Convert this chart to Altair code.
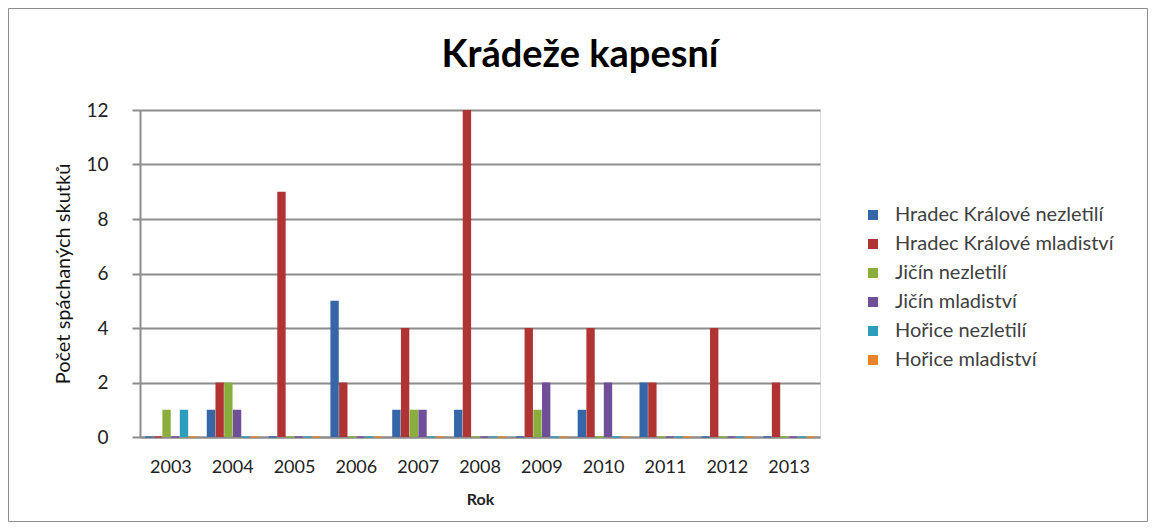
import altair as alt
import pandas as pd

years = ["2003", "2004", "2005", "2006", "2007", "2008", "2009", "2010", "2011", "2012", "2013"]
series = ["Hradec Králové nezletilí", "Hradec Králové mladiství", "Jičín nezletilí",
          "Jičín mladiství", "Hořice nezletilí", "Hořice mladiství"]
hk_nez = [0, 1, 0, 5, 1, 1, 0, 1, 2, 0, 0]
hk_ml = [0, 2, 9, 2, 4, 12, 4, 4, 2, 4, 2]
ji_nez = [1, 2, 0, 0, 1, 0, 1, 0, 0, 0, 0]
ji_ml = [0, 1, 0, 0, 1, 0, 2, 2, 0, 0, 0]
ho_nez = [1, 0, 0, 0, 0, 0, 0, 0, 0, 0, 0]
ho_ml = [0, 0, 0, 0, 0, 0, 0, 0, 0, 0, 0]
colors = ["#3466A8", "#B03434", "#8AAE3E", "#6E4F98", "#2C9DBA", "#E7832A"]
title_text = "Krádeže kapesní"

rows = []
for s, vals in zip(series, [hk_nez, hk_ml, ji_nez, ji_ml, ho_nez, ho_ml]):
    for y, v in zip(years, vals):
        rows.append({"Rok": y, "Série": s, "Počet": v})
df = pd.DataFrame(rows)

W, H = 680, 327
PL, PT = 132, 102
TW, TH = 1140, 514
FONT = "Lato"

x_enc = alt.X("Rok:N", sort=years, title="Rok",
              scale=alt.Scale(paddingInner=0.16, paddingOuter=0.08),
              axis=alt.Axis(labelAngle=0, labelFontSize=18, labelColor="#222222",
                            labelFont=FONT, labelPadding=21, ticks=False,
                            domain=True, domainColor="#8c8c8c", domainWidth=2,
                            titleFont=FONT, titleFontSize=16, titleFontWeight="bold",
                            titleColor="#222222", titlePadding=15))
xo = alt.XOffset("Série:N", sort=series, scale=alt.Scale(paddingInner=0.04))
color_enc = alt.Color("Série:N", sort=series,
                      scale=alt.Scale(domain=series, range=colors),
                      legend=alt.Legend(title=None, orient="none", legendX=723, legendY=95,
                                        labelFontSize=20, labelFont=FONT,
                                        labelColor="#404040", symbolType="square",
                                        symbolSize=100, symbolStrokeWidth=0,
                                        rowPadding=9, labelOffset=12, labelLimit=0))

base = alt.Chart(df)

bars = base.mark_bar().encode(
    x=x_enc,
    xOffset=xo,
    y=alt.Y("Počet:Q", title="Počet spáchaných skutků",
            scale=alt.Scale(domain=[0, 12]),
            axis=alt.Axis(values=[0, 2, 4, 6, 8, 10, 12], labelFontSize=19,
                          labelFont=FONT, labelColor="#222222", labelPadding=24,
                          tickSize=8, tickColor="#8c8c8c", tickWidth=2,
                          domain=True, domainColor="#8c8c8c", domainWidth=2,
                          grid=True, gridColor="#8c8c8c", gridWidth=2,
                          titleFont=FONT, titleFontSize=20, titleFontWeight="normal",
                          titleColor="#111111", titlePadding=12)),
    color=color_enc,
)

zeros = base.transform_filter(alt.datum["Počet"] == 0).mark_tick(
    thickness=2, size=8, orient="horizontal"
).encode(
    x=alt.X("Rok:N", sort=years),
    xOffset=xo,
    y=alt.Y("Počet:Q"),
    color=alt.Color("Série:N", sort=series, legend=None),
)

border = alt.Chart(pd.DataFrame({"a": [0]})).mark_rect(
    fill=None, stroke="#8c8c8c", strokeWidth=1
).encode(
    x=alt.value(-PL + 0.5), x2=alt.value(TW - PL - 0.5),
    y=alt.value(-PT + 0.5), y2=alt.value(TH - PT - 0.5),
)

title = alt.Chart(pd.DataFrame({"t": [title_text]})).mark_text(
    font=FONT, fontSize=38, fontWeight="bold", color="#000000",
    align="center", baseline="alphabetic"
).encode(
    text="t:N",
    x=alt.value(TW / 2 - PL + 2),
    y=alt.value(67 - 8 - PT),
)

chart = alt.layer(bars, zeros, border, title).properties(
    width=W, height=H,
    autosize=alt.AutoSizeParams(type="none"),
    padding={"left": PL, "top": PT, "right": TW - PL - W, "bottom": TH - PT - H},
).configure_view(stroke=None).configure(background="white")

chart.save("out.html", embed_options={"renderer": "svg", "actions": False})
